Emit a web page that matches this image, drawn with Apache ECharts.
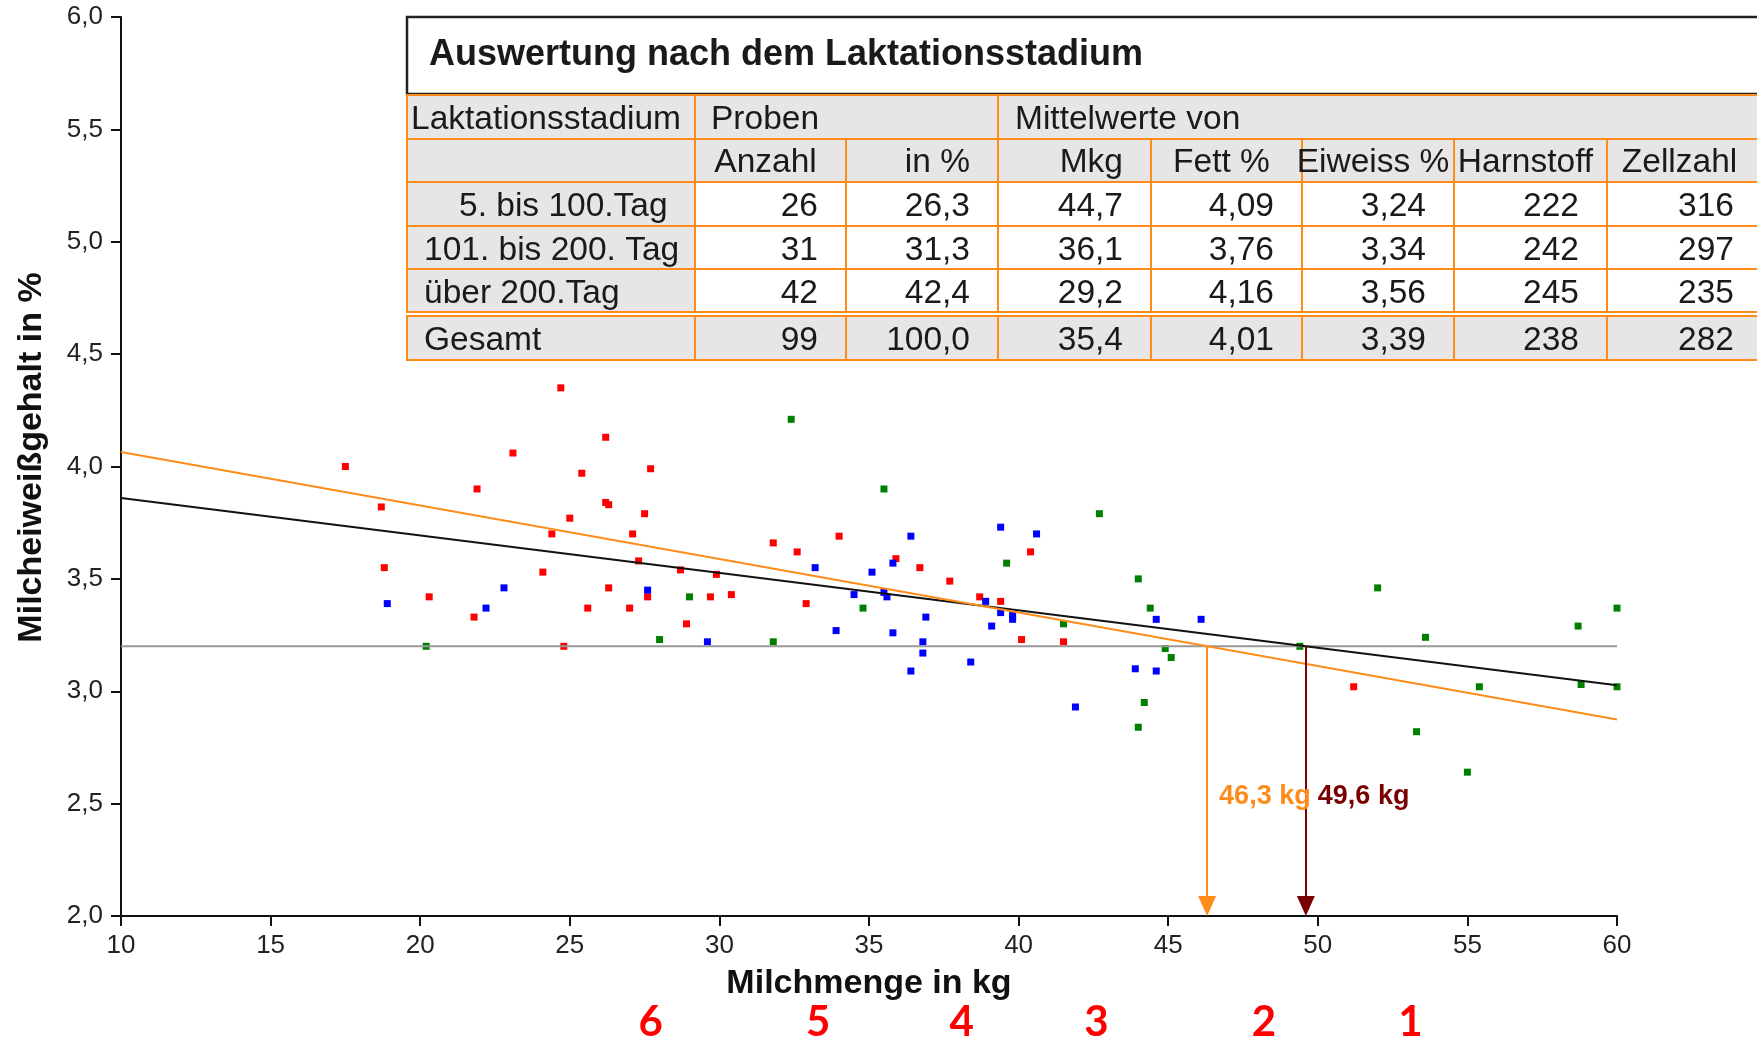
<!DOCTYPE html>
<html>
<head>
<meta charset="utf-8">
<script src="https://cdn.jsdelivr.net/npm/echarts@6/dist/echarts.min.js"></script>
<style>
    html, body { margin: 0; padding: 0; background: #fff; }
    #chart { width: 1757px; height: 1043px; }
</style>
</head>
<body>
<div id="chart"></div>
<script>
// Milchmenge (kg) und Eiweiß (%) je Kuh, nach Laktationsstadium
const ueber200Tag = [
    [17.5, 4.00], [18.7, 3.82], [18.8, 3.55], [20.3, 3.42], [21.9, 3.90], [21.8, 3.33],
    [23.1, 4.06], [24.1, 3.53], [24.4, 3.70], [24.7, 4.35], [24.8, 3.20], [25.0, 3.77],
    [25.4, 3.97], [25.6, 3.37], [26.2, 4.13], [26.2, 3.84], [26.3, 3.83], [26.3, 3.46],
    [27.0, 3.37], [27.1, 3.70], [27.3, 3.58], [27.5, 3.79], [27.7, 3.99], [27.6, 3.42],
    [28.9, 3.30], [28.7, 3.54], [29.7, 3.42], [29.9, 3.52], [30.4, 3.43], [31.8, 3.66],
    [32.6, 3.62], [32.9, 3.39], [34.0, 3.69], [35.9, 3.59], [36.7, 3.55], [37.7, 3.49],
    [38.7, 3.42], [39.4, 3.40], [40.4, 3.62], [40.1, 3.23], [41.5, 3.22], [51.2, 3.02]
];
const tag101bis200 = [
    [18.9, 3.39], [22.2, 3.37], [22.8, 3.46], [27.6, 3.45], [29.6, 3.22], [33.2, 3.55],
    [33.9, 3.27], [34.5, 3.43], [35.1, 3.53], [35.5, 3.44], [35.6, 3.42], [35.8, 3.57],
    [35.8, 3.26], [36.4, 3.69], [36.9, 3.33], [36.8, 3.22], [36.8, 3.17], [36.4, 3.09],
    [38.4, 3.13], [38.9, 3.40], [39.4, 3.73], [40.6, 3.70], [39.4, 3.35], [39.8, 3.34],
    [39.8, 3.32], [39.1, 3.29], [41.9, 2.93], [44.6, 3.32], [46.1, 3.32], [43.9, 3.10],
    [44.6, 3.09]
];
const tag5bis100 = [
    [20.2, 3.20], [28.0, 3.23], [29.0, 3.42], [31.8, 3.22], [32.4, 4.21], [34.8, 3.37],
    [35.5, 3.90], [39.6, 3.57], [42.7, 3.79], [41.5, 3.30], [44.0, 3.50], [44.4, 3.37],
    [44.9, 3.19], [45.1, 3.15], [44.2, 2.95], [44.0, 2.84], [49.4, 3.20], [52.0, 3.46],
    [53.6, 3.24], [55.4, 3.02], [53.3, 2.82], [55.0, 2.64], [58.7, 3.29], [60.0, 3.37],
    [58.8, 3.03], [60.0, 3.02]
];

const trendSchwarz = [[10, 3.86], [60, 3.027]];
const trendOrange = [[10, 4.065], [60, 2.874]];
const zielEiweiss = 3.2;
const schnittMenge = [46.3, 49.6];
const schnittLabels = ['46,3 kg', '49,6 kg'];
const labelHoehe = 2.53;

const klassenNr = ['6', '5', '4', '3', '2', '1'];
const klassenPos = [27.7, 33.3, 38.1, 42.6, 48.2, 53.1];

const tabellenTitel = 'Auswertung nach dem Laktationsstadium';
const kopf1 = ['Laktationsstadium', 'Proben', 'Mittelwerte von'];
const kopf2 = ['', 'Anzahl', 'in %', 'Mkg', 'Fett %', 'Eiweiss %', 'Harnstoff', 'Zellzahl'];
const stadien = ['5. bis 100.Tag', '101. bis 200. Tag', 'über 200.Tag', 'Gesamt'];
const anzahl = ['26', '31', '42', '99'];
const anteil = ['26,3', '31,3', '42,4', '100,0'];
const mkg = ['44,7', '36,1', '29,2', '35,4'];
const fett = ['4,09', '3,76', '4,16', '4,01'];
const eiweiss = ['3,24', '3,34', '3,56', '3,39'];
const harnstoff = ['222', '242', '245', '238'];
const zellzahl = ['316', '297', '235', '282'];

const ORANGE = '#ff8c1a';
const DUNKELROT = '#7a0000';
const FONT = '"Liberation Sans", Arial, sans-serif';
const labelFarben = [ORANGE, DUNKELROT];

const chart = echarts.init(document.getElementById('chart'));

const fmt = v => v.toFixed(1).replace('.', ',');

chart.setOption({
    animation: false,
    backgroundColor: '#fff',
    grid: { left: 121, right: 140, top: 17, bottom: 127 },
    xAxis: {
        type: 'value', min: 10, max: 60, interval: 5,
        name: 'Milchmenge in kg', nameLocation: 'middle', nameGap: 51,
        nameTextStyle: { fontFamily: FONT, fontSize: 34, fontWeight: 'bold', color: '#111' },
        axisLine: { show: true, onZero: false, lineStyle: { color: '#111', width: 2 } },
        axisTick: { show: true, length: 10, lineStyle: { color: '#111', width: 2 } },
        axisLabel: { fontFamily: FONT, fontSize: 26, color: '#222', margin: 17 },
        splitLine: { show: false }
    },
    yAxis: {
        type: 'value', min: 2, max: 6, interval: 0.5,
        name: 'Milcheiweißgehalt in %', nameLocation: 'middle', nameGap: 72,
        nameTextStyle: { fontFamily: FONT, fontSize: 34, fontWeight: 'bold', color: '#111', padding: [0, 0, 0, 18] },
        axisLine: { show: true, onZero: false, lineStyle: { color: '#111', width: 2 } },
        axisTick: { show: true, length: 10, lineStyle: { color: '#111', width: 2 } },
        axisLabel: { fontFamily: FONT, fontSize: 26, color: '#222', margin: 18, formatter: fmt },
        splitLine: { show: false }
    },
    series: [
        {
            type: 'line', data: [[10, zielEiweiss], [60, zielEiweiss]], symbol: 'none', silent: true,
            lineStyle: { color: '#999', width: 2 },
            markLine: {
                silent: true, symbol: ['none', 'triangle'], symbolSize: [18, 20],
                label: { show: false },
                data: schnittMenge.map((m, i) => [
                    { coord: [m, zielEiweiss], lineStyle: { color: labelFarben[i], width: 2, type: 'solid' }, itemStyle: { color: labelFarben[i] } },
                    { coord: [m, 2.045] }
                ])
            }
        },
        { type: 'line', data: trendSchwarz, symbol: 'none', silent: true, lineStyle: { color: '#111', width: 2 } },
        { type: 'line', data: trendOrange, symbol: 'none', silent: true, lineStyle: { color: ORANGE, width: 2 } },
        { type: 'scatter', data: ueber200Tag, symbol: 'rect', symbolSize: 7, itemStyle: { color: '#ff0000', opacity: 1 } },
        { type: 'scatter', data: tag101bis200, symbol: 'rect', symbolSize: 7, itemStyle: { color: '#0000ff', opacity: 1 } },
        { type: 'scatter', data: tag5bis100, symbol: 'rect', symbolSize: 7, itemStyle: { color: '#008000', opacity: 1 } }
    ]
});

// Tabelle, Schnittpunkt-Beschriftung und rote Klassennummern als Grafik
const colX = [407, 695, 846, 998, 1151, 1302, 1454, 1607, 1762];
const rowY = [95, 139, 182, 226, 269, 312];
const gesamtY = [316, 360];
const GRAU = '#e6e6e6';
const g = [];

function cell(x0, x1, y0, y1, fill) {
    g.push({ type: 'rect', shape: { x: x0, y: y0, width: x1 - x0, height: y1 - y0 },
        style: { fill: fill, stroke: ORANGE, lineWidth: 2 }, z: 10 });
}
function txt(s, x, y, align, font, color) {
    g.push({ type: 'text', x: x, y: y, z: 11,
        style: { text: s, font: font || ('33.5px ' + FONT), fill: color || '#1a1a1a', align: align, verticalAlign: 'middle' } });
}

g.push({ type: 'rect', shape: { x: 407, y: 17, width: 1360, height: 77 },
    style: { fill: '#fff', stroke: '#222', lineWidth: 2.5 }, z: 10 });
txt(tabellenTitel, 429, 55, 'left', 'bold 36px ' + FONT);

// Kopfzeilen
cell(colX[0], colX[1], rowY[0], rowY[1], GRAU);
cell(colX[1], colX[3], rowY[0], rowY[1], GRAU);
cell(colX[3], colX[8], rowY[0], rowY[1], GRAU);
txt(kopf1[0], 411, 120, 'left');
txt(kopf1[1], 711, 120, 'left');
txt(kopf1[2], 1015, 120, 'left');
const kopfAlign = ['left', 'center', 'right', 'right', 'center', 'center', 'center', 'center'];
for (let c = 0; c < 8; c++) {
    cell(colX[c], colX[c + 1], rowY[1], rowY[2], GRAU);
    const a = kopfAlign[c];
    const x = a === 'right' ? colX[c + 1] - 28 : (colX[c] + colX[c + 1]) / 2 - 5;
    txt(kopf2[c], x, 163, a);
}

// Datenzeilen
const spalten = [anzahl, anteil, mkg, fett, eiweiss, harnstoff, zellzahl];
for (let r = 0; r < 4; r++) {
    const y0 = r < 3 ? rowY[r + 2] : gesamtY[0];
    const y1 = r < 3 ? rowY[r + 3] : gesamtY[1];
    cell(colX[0], colX[1], y0, y1, GRAU);
    txt(stadien[r], r === 0 ? 459 : 424, (y0 + y1) / 2 + 3, 'left');
    spalten.forEach((werte, c) => {
        cell(colX[c + 1], colX[c + 2], y0, y1, r < 3 ? '#fff' : GRAU);
        txt(werte[r], colX[c + 2] - 28, (y0 + y1) / 2 + 3, 'right');
    });
}

schnittMenge.forEach((m, i) => {
    const p = chart.convertToPixel({ gridIndex: 0 }, [m, labelHoehe]);
    txt(schnittLabels[i], p[0] + 12, p[1], 'left', 'bold 27px ' + FONT, labelFarben[i]);
});

klassenNr.forEach((n, i) => {
    const px = chart.convertToPixel({ xAxisIndex: 0 }, klassenPos[i]);
    txt(n, px, 1022, 'center', 'bold 42px Lato, "Open Sans", sans-serif', '#ff0000');
});

chart.setOption({ graphic: g });
</script>
</body>
</html>
